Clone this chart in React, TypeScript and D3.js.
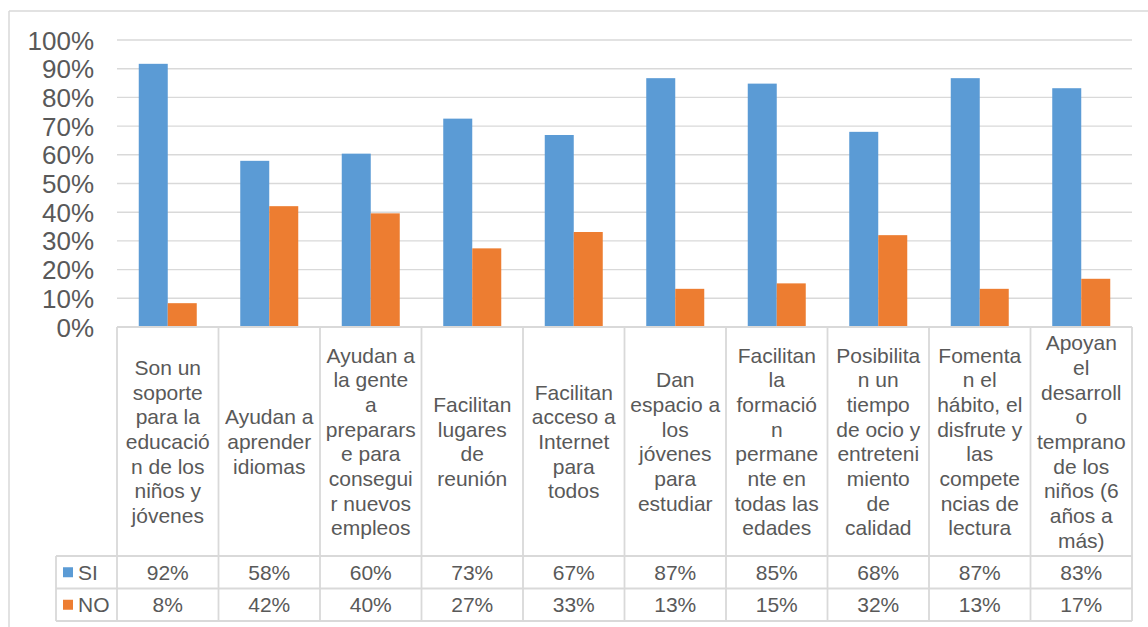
import React from "react";
import * as d3 from "d3";

const categories: string[] = [
  "Son un\nsoporte\npara la\neducació\nn de los\nniños y\njóvenes",
  "Ayudan a\naprender\nidiomas",
  "Ayudan a\nla gente\na\npreparars\ne para\nconsegui\nr nuevos\nempleos",
  "Facilitan\nlugares\nde\nreunión",
  "Facilitan\nacceso a\nInternet\npara\ntodos",
  "Dan\nespacio a\nlos\njóvenes\npara\nestudiar",
  "Facilitan\nla\nformació\nn\npermane\nnte en\ntodas las\nedades",
  "Posibilita\nn un\ntiempo\nde ocio y\nentreteni\nmiento\nde\ncalidad",
  "Fomenta\nn el\nhábito, el\ndisfrute y\nlas\ncompete\nncias de\nlectura",
  "Apoyan\nel\ndesarroll\no\ntemprano\nde los\nniños (6\naños a\nmás)",
];

const seriesNames: string[] = ["SI", "NO"];
const siValues: number[] = [91.7, 57.9, 60.4, 72.6, 66.9, 86.7, 84.8, 68.0, 86.7, 83.2];
const noValues: number[] = [8.3, 42.1, 39.6, 27.4, 33.1, 13.3, 15.2, 32.0, 13.3, 16.8];
const siLabels: string[] = ["92%", "58%", "60%", "73%", "67%", "87%", "85%", "68%", "87%", "83%"];
const noLabels: string[] = ["8%", "42%", "40%", "27%", "33%", "13%", "15%", "32%", "13%", "17%"];
const yTicks: number[] = [0, 10, 20, 30, 40, 50, 60, 70, 80, 90, 100];
const colors: string[] = ["#5b9bd5", "#ed7d31"];

const W = 1148;
const H = 627;
const plotLeft = 117;
const plotRight = 1132;
const plotTop = 40;
const plotBottom = 327;
const headerBottom = 556;
const row1Bottom = 588.5;
const tableBottom = 621;
const legendLeft = 56;
const gridColor = "#d9d9d9";
const textColor = "#595959";
const font = "'Liberation Sans', Arial, sans-serif";
const lineH = 24.7;

export default function App() {
  const x = d3.scaleBand<number>().domain(d3.range(categories.length)).range([plotLeft, plotRight]).paddingInner(0).paddingOuter(0);
  const y = d3.scaleLinear().domain([0, 100]).range([plotBottom, plotTop]);
  const bw = x.bandwidth();
  const groupW = (bw * 2) / 3.5;
  const gap = bw - groupW;
  const values = [siValues, noValues];
  const labels = [siLabels, noLabels];
  const headerCenter = (plotBottom + headerBottom) / 2;
  const rowCenters = [(headerBottom + row1Bottom) / 2, (row1Bottom + tableBottom) / 2];

  return (
    <svg width={W} height={H} style={{ position: "absolute", left: 0, top: 0, background: "#fff" }} fontFamily={font}>
      <rect x={0} y={0} width={W} height={H} fill="#fff" />
      {/* chart frame */}
      <line x1={9} x2={W} y1={11} y2={11} stroke={gridColor} strokeWidth={1.5} />
      <line x1={9} x2={9} y1={11} y2={H} stroke={gridColor} strokeWidth={1.5} />

      {/* gridlines */}
      {yTicks.filter((t) => t > 0).map((t) => (
        <line key={t} x1={plotLeft} x2={plotRight} y1={y(t)} y2={y(t)} stroke={gridColor} strokeWidth={1.4} />
      ))}

      {/* y tick labels */}
      {yTicks.map((t) => (
        <text key={t} x={94} y={y(t) + 9.5} textAnchor="end" fontSize={26} fill={textColor}>
          {t}%
        </text>
      ))}

      {/* bars */}
      {categories.map((_, i) => {
        const inner = d3
          .scaleBand<string>()
          .domain(seriesNames)
          .range([(x(i) as number) + gap / 2, (x(i) as number) + bw - gap / 2])
          .padding(0);
        return seriesNames.map((s, si) => (
          <rect
            key={`${i}-${s}`}
            x={inner(s)}
            y={y(values[si][i])}
            width={inner.bandwidth()}
            height={plotBottom - y(values[si][i])}
            fill={colors[si]}
          />
        ));
      })}

      {/* data table lines */}
      <line x1={plotLeft} x2={plotRight} y1={plotBottom} y2={plotBottom} stroke={gridColor} strokeWidth={1.8} />
      {[headerBottom, row1Bottom, tableBottom].map((yy) => (
        <line key={yy} x1={legendLeft} x2={plotRight} y1={yy} y2={yy} stroke={gridColor} strokeWidth={1.8} />
      ))}
      <line x1={legendLeft} x2={legendLeft} y1={headerBottom} y2={tableBottom} stroke={gridColor} strokeWidth={1.8} />
      {d3.range(categories.length + 1).map((i) => {
        const xx = i < categories.length ? (x(i) as number) : plotRight;
        return <line key={i} x1={xx} x2={xx} y1={plotBottom} y2={tableBottom} stroke={gridColor} strokeWidth={1.8} />;
      })}

      {/* category labels */}
      {categories.map((c, i) => {
        const lines = c.split("\n");
        const cx = (x(i) as number) + bw / 2;
        return (
          <text key={i} textAnchor="middle" fontSize={21} fill={textColor}>
            {lines.map((ln, li) => (
              <tspan key={li} x={cx} y={headerCenter + (li - (lines.length - 1) / 2) * lineH + 7.5}>
                {ln}
              </tspan>
            ))}
          </text>
        );
      })}

      {/* legend column */}
      {seriesNames.map((s, si) => (
        <g key={s}>
          <rect x={63} y={rowCenters[si] - 5} width={10} height={10} fill={colors[si]} />
          <text x={78} y={rowCenters[si] + 7.5} fontSize={21} fill={textColor}>
            {s}
          </text>
        </g>
      ))}

      {/* table values */}
      {labels.map((row, si) =>
        row.map((lab, i) => (
          <text key={`${si}-${i}`} x={(x(i) as number) + bw / 2} y={rowCenters[si] + 7.5} textAnchor="middle" fontSize={21} fill={textColor}>
            {lab}
          </text>
        ))
      )}
    </svg>
  );
}
